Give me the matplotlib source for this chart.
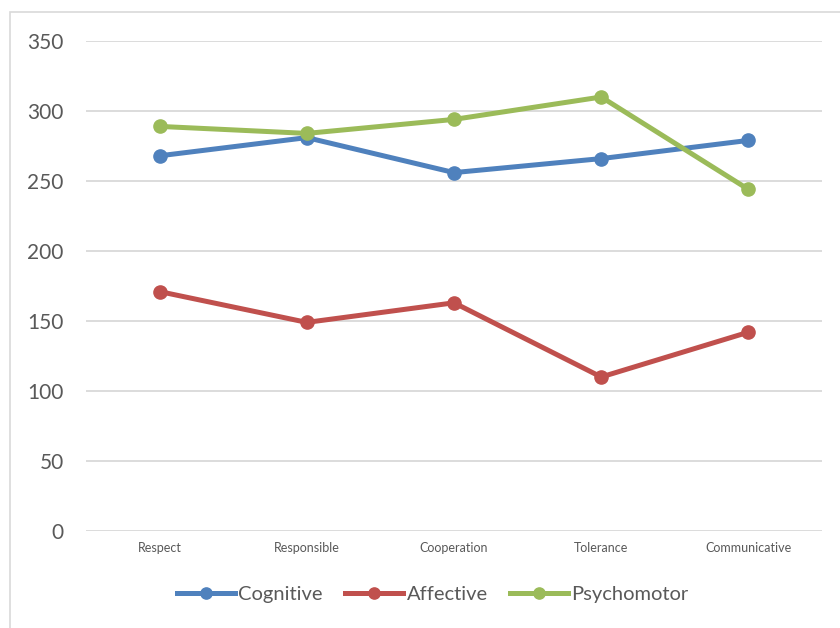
import matplotlib
matplotlib.use("Agg")
import matplotlib.pyplot as plt
from matplotlib.patches import Rectangle

categories = ["Respect", "Responsible", "Cooperation", "Tolerance", "Communicative"]
cognitive = [268, 281, 256, 266, 279]
affective = [171, 149, 163, 110, 142]
psychomotor = [289, 284, 294, 310, 244]

plt.rcParams['font.family'] = ['Lato', 'DejaVu Sans']

fig = plt.figure(figsize=(8.4, 6.28), dpi=100)
ax = fig.add_axes([0.1024, 0.1545, 0.8762, 0.7802])

# outer chart frame (left/top visible)
fig.patches.append(Rectangle((10 / 840, -0.1), 1.0, (628 - 12) / 628 + 0.1,
                             transform=fig.transFigure, fill=False,
                             edgecolor='#d9d9d9', linewidth=1.2))

x = range(len(categories))
ax.plot(x, cognitive, '-o', color='#4F81BD', lw=3.6, ms=9.5, label='Cognitive', zorder=3)
ax.plot(x, affective, '-o', color='#C0504D', lw=3.6, ms=9.5, label='Affective', zorder=3)
ax.plot(x, psychomotor, '-o', color='#9BBB59', lw=3.6, ms=9.5, label='Psychomotor', zorder=3)

ax.set_xlim(-0.5, 4.5)
ax.set_ylim(0, 350)
ax.set_yticks(range(0, 351, 50))
ax.set_xticks(list(x))
ax.set_xticklabels(categories, fontsize=9, color='#595959')
ax.tick_params(axis='y', labelsize=15, colors='#595959', length=0, pad=16)
ax.tick_params(axis='x', length=0, pad=8)
ax.grid(axis='y', color='#d9d9d9', linewidth=1.3)
ax.set_axisbelow(True)
for s in ax.spines.values():
    s.set_visible(False)

leg = ax.legend(loc='upper center', bbox_to_anchor=(0.471, -0.076), ncol=3, frameon=False,
                fontsize=14.5, handlelength=2.9, handletextpad=0.15, columnspacing=1.1,
                markerscale=0.85)
for t in leg.get_texts():
    t.set_color('#595959')

fig.savefig("out.png", dpi=100)
